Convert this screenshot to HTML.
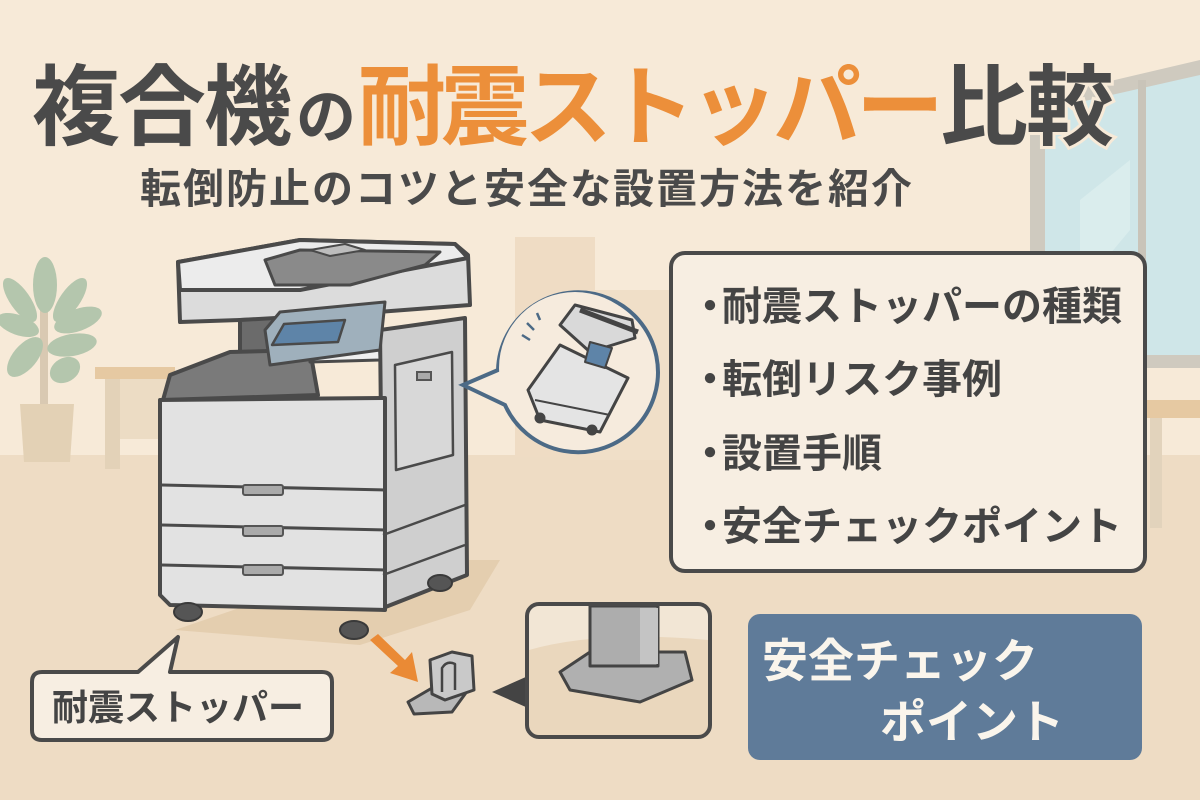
<!DOCTYPE html>
<html><head><meta charset="utf-8"><style>
html,body{margin:0;padding:0;width:1200px;height:800px;overflow:hidden;background:#f6e8d5}
svg{display:block}
text{font-family:"Liberation Sans","Noto Sans CJK JP",sans-serif;font-weight:bold}
</style></head><body>
<svg width="1200" height="800" viewBox="0 0 1200 800" xmlns="http://www.w3.org/2000/svg">
<rect width="1200" height="800" fill="#f7ead8"/>
<rect x="0" y="455" width="1200" height="345" fill="#eedcc4"/>
<rect x="515" y="237" width="80" height="220" fill="#efdcc4"/>
<rect x="590" y="290" width="80" height="170" fill="#f0dfc8"/>
<!-- window -->
<polygon points="1030,100 1200,60 1200,368 1030,368" fill="#cfcabf"/>
<polygon points="1045,110 1200,75 1200,355 1045,355" fill="#cfe6e8"/>
<rect x="1138" y="80" width="8" height="280" fill="#c9c4b9"/>
<polygon points="1080,200 1130,160 1130,230 1080,290" fill="#def0f0" opacity="0.7"/>
<rect x="1020" y="400" width="180" height="18" fill="#e6c9a2"/>
<rect x="1150" y="418" width="12" height="110" fill="#e2d3bc"/>
<rect x="1040" y="418" width="10" height="80" fill="#e2d3bc"/>
<!-- plant -->
<rect x="40" y="260" width="8" height="150" fill="#d9c9b2"/>
<g fill="#b4c6ad">
<ellipse cx="45" cy="285" rx="12" ry="28"/>
<ellipse cx="20" cy="300" rx="10" ry="26" transform="rotate(-35 20 300)"/>
<ellipse cx="70" cy="300" rx="10" ry="26" transform="rotate(35 70 300)"/>
<ellipse cx="18" cy="325" rx="10" ry="22" transform="rotate(-70 18 325)"/>
<ellipse cx="78" cy="320" rx="11" ry="25" transform="rotate(70 78 320)"/>
<ellipse cx="25" cy="357" rx="12" ry="24" transform="rotate(40 25 357)"/>
<ellipse cx="72" cy="345" rx="11" ry="25" transform="rotate(80 72 345)"/>
<ellipse cx="65" cy="370" rx="12" ry="16" transform="rotate(60 65 370)"/>
</g>
<polygon points="20,404 74,404 70,462 24,462" fill="#e3d1b5"/>
<rect x="95" y="367" width="80" height="12" fill="#e6c9a2"/>
<rect x="105" y="379" width="15" height="90" fill="#e3d2b8"/>
<rect x="120" y="379" width="55" height="60" fill="#ecdcc4"/>
<!-- printer shadow -->
<polygon points="175,630 360,645 470,610 500,560 380,560" fill="#e0c8a6" opacity="0.7"/>
<g stroke="#4a4a4a" stroke-width="4" stroke-linejoin="round">
<polygon points="380,330 465,318 467,575 383,608" fill="#cfcfcf"/>
<polygon points="395,365 452,352 453,455 396,470" fill="#d8d8d8" stroke-width="2.5"/>
<!-- scanner -->
<polygon points="178,262 300,240 455,244 468,255 470,305 300,318 180,322" fill="#dcdcdc"/>
<polygon points="178,262 300,240 455,244 468,258 300,290 180,290" fill="#ececec"/>
<polygon points="265,260 300,250 440,252 425,265 350,285 275,285" fill="#8a8a8a" stroke-width="3"/>
<polygon points="310,250 345,244 365,250 330,256" fill="#bdbdbd" stroke-width="2"/>
<polygon points="240,320 310,316 310,365 240,372" fill="#6b6b6b"/>
<polygon points="170,375 230,352 310,350 318,395 163,400" fill="#7a7a7a"/>
<polygon points="310,316 378,306 380,360 310,362" fill="#efefef" stroke-width="3"/>
<polygon points="160,400 385,398 385,610 170,605 160,595" fill="#e2e2e2"/>
<line x1="162" y1="485" x2="385" y2="490" stroke-width="3"/>
<line x1="162" y1="525" x2="385" y2="530" stroke-width="3"/>
<line x1="162" y1="565" x2="385" y2="570" stroke-width="3"/>
<line x1="383" y1="535" x2="465" y2="505" stroke-width="2.5"/>
<line x1="383" y1="575" x2="465" y2="545" stroke-width="2.5"/>
<polygon points="265,330 280,312 385,302 380,350 270,365" fill="#9fb0bc" stroke-width="3"/>
<polygon points="272,345 284,324 345,320 338,342" fill="#5e84a8" stroke-width="2.5"/>
</g>
<g fill="#aaaaaa" stroke="#555" stroke-width="2">
<rect x="243" y="485" width="40" height="10" rx="2"/>
<rect x="243" y="526" width="40" height="10" rx="2"/>
<rect x="243" y="565" width="40" height="10" rx="2"/>
<rect x="417" y="372" width="14" height="8"/>
</g>
<g fill="#555" stroke="#3a3a3a" stroke-width="2">
<ellipse cx="188" cy="612" rx="14" ry="9"/>
<ellipse cx="354" cy="630" rx="14" ry="9"/>
<ellipse cx="440" cy="583" rx="12" ry="8"/>
</g>
<!-- circle bubble -->
<path d="M463,385 L498,370 A80,80 0 1 1 505,405 Z" stroke="#4c6a86" stroke-width="4" fill="#f6ebdd"/>
<circle cx="575" cy="368" r="76" fill="#f6ebdd"/>
<g stroke="#444" stroke-width="3" stroke-linejoin="round">
<polygon points="528,390 560,345 628,378 600,432 540,420" fill="#e4e4e4"/>
<line x1="535" y1="400" x2="610" y2="415" stroke-width="2"/>
<polygon points="560,325 575,305 632,320 635,338 590,352" fill="#d9d9d9"/>
<polygon points="590,342 612,348 605,368 585,362" fill="#5e84a8" stroke-width="2"/>
<line x1="580" y1="310" x2="638" y2="332" stroke-width="5"/>
<circle cx="540" cy="418" r="4" fill="#444"/>
<circle cx="592" cy="430" r="4" fill="#444"/>
</g>
<g stroke="#4c6a86" stroke-width="2.5"><line x1="522" y1="335" x2="530" y2="340"/><line x1="527" y1="323" x2="534" y2="330"/><line x1="537" y1="313" x2="540" y2="320"/></g>
<!-- list box -->
<rect x="671" y="253" width="474" height="318" rx="14" fill="#f7eee2" stroke="#4a4a4a" stroke-width="4"/>
<g fill="#444" font-size="40">
<text x="690" y="320">・</text><text x="722" y="320">耐震ストッパーの種類</text>
<text x="690" y="393">・</text><text x="722" y="393">転倒リスク事例</text>
<text x="690" y="467">・</text><text x="722" y="467">設置手順</text>
<text x="690" y="540">・</text><text x="722" y="540">安全チェックポイント</text>
</g>
<rect x="748" y="614" width="394" height="146" rx="12" fill="#5f7b99"/>
<g fill="#faf5ec" font-size="46"><text x="762" y="677">安全チェック</text><text x="880" y="738">ポイント</text></g>
<path d="M42,672 L138,672 L178,637 L170,672 L322,672 Q332,672 332,682 L332,730 Q332,740 322,740 L42,740 Q32,740 32,730 L32,682 Q32,672 42,672 Z" fill="#f7eee2" stroke="#4a4a4a" stroke-width="4" stroke-linejoin="round"/>
<text x="52" y="720" font-size="36" fill="#444">耐震ストッパー</text>
<polygon points="370,640 378,634 405,660 412,652 418,682 390,673 398,666" fill="#ea8a35"/>
<!-- stopper -->
<g stroke="#444" stroke-width="3" stroke-linejoin="round">
<polygon points="408,702 432,688 468,690 452,712 414,714" fill="#b8b8b8"/>
<polygon points="430,660 452,652 472,656 474,690 445,700 432,694" fill="#c9c9c9"/>
<path d="M442,692 L442,668 Q447,660 455,664 L455,690" fill="none" stroke-width="2.5"/>
</g>
<polygon points="492,692 528,676 528,708" fill="#444"/>
<!-- detail box -->
<rect x="527" y="604" width="183" height="133" rx="12" fill="#f2e6d5"/>
<path d="M529,650 Q600,630 708,640 L708,735 L529,735 Z" fill="#ead7bd"/>
<g stroke="#444" stroke-width="3" stroke-linejoin="round">
<polygon points="560,672 590,652 685,652 692,680 640,702 570,690" fill="#b0b0b0"/>
<rect x="590" y="606" width="68" height="60" fill="#adadad"/>
<rect x="640" y="608" width="18" height="56" fill="#c4c4c4" stroke="none"/>
</g>
<rect x="527" y="604" width="183" height="133" rx="12" fill="none" stroke="#4a4a4a" stroke-width="4"/>
<!-- title -->
<g font-size="88" stroke="#f7ead8" stroke-width="6" paint-order="stroke">
<text x="32" y="138" fill="#4a4a4a" letter-spacing="-2">複合機</text>
<text x="296" y="138" fill="#4a4a4a" font-size="60">の</text>
<text x="358" y="138" fill="#ec8f3a" letter-spacing="-5">耐震ストッパー</text>
<text x="940" y="138" fill="#4a4a4a" letter-spacing="-2">比較</text>
</g>
<text x="140" y="203" font-size="41" fill="#4a4a4a" letter-spacing="2">転倒防止のコツと安全な設置方法を紹介</text>
</svg>
</body></html>
